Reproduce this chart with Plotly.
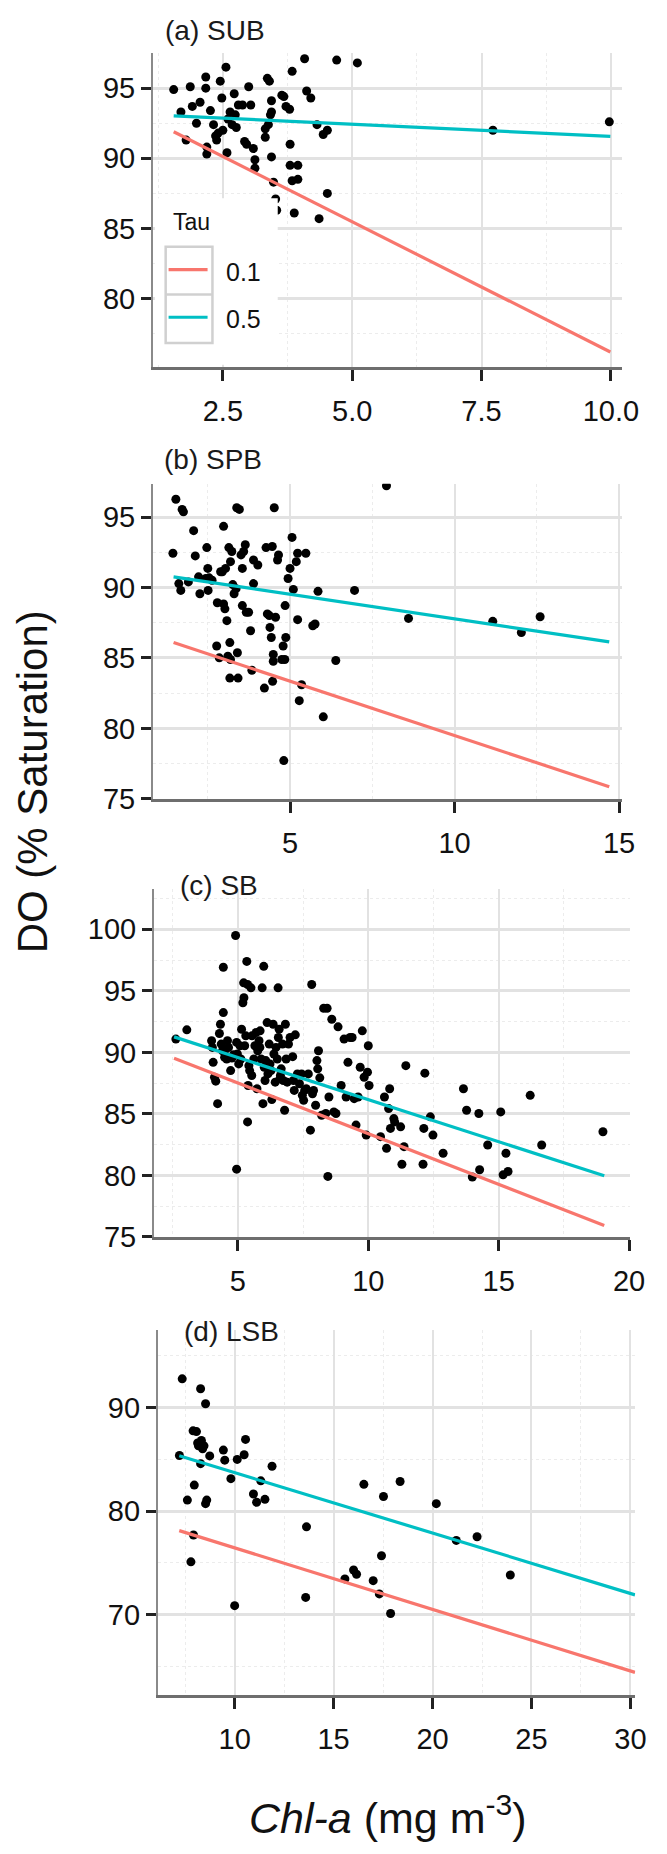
import plotly.graph_objects as go

# ---------------- data ----------------
panel_titles = ["(a) SUB", "(b) SPB", "(c) SB", "(d) LSB"]
tau_levels = ["0.1", "0.5"]
legend_title = "Tau"

a_chl = [1.55,1.69,1.87,1.91,1.99,2.06,1.79,2.17,2.17,2.19,2.19,2.26,2.32,2.36,2.38,2.41,2.45,2.48,2.50,2.56,
         2.58,2.60,2.64,2.68,2.72,2.74,2.76,2.80,2.88,2.92,2.96,3.00,3.04,3.09,3.12,3.12,3.32,3.32,3.36,3.38,
         3.40,3.42,3.44,3.44,3.44,3.48,3.52,3.54,3.64,3.68,3.72,3.79,3.80,3.80,3.84,3.84,3.88,3.95,3.95,4.08,
         4.12,4.20,4.32,4.36,4.44,4.52,4.52,4.70,5.10,7.72,9.97]
a_do = [94.9,93.3,95.1,93.7,92.5,94.0,91.3,95.8,95.0,90.8,90.3,93.4,92.4,91.6,91.3,91.8,95.5,94.3,92.0,96.5,
        90.4,92.8,93.3,92.4,94.6,93.1,92.2,93.8,93.8,91.2,91.0,95.1,93.8,90.7,89.9,89.3,91.5,92.1,95.7,92.4,
        95.5,93.1,94.1,93.3,90.1,88.3,87.1,86.3,94.5,94.4,93.7,93.5,91.0,89.5,96.2,88.4,86.1,89.5,88.5,97.1,
        94.8,94.3,92.4,85.7,91.7,92.0,87.5,97.0,96.8,92.0,92.6]

b_chl = [1.53,1.44,1.72,1.76,1.62,1.68,1.91,2.07,2.12,2.22,2.26,2.44,2.47,2.50,2.51,2.54,2.63,2.77,2.79,2.85,
         2.89,2.94,2.98,2.98,3.02,3.04,3.08,3.11,3.14,3.17,3.17,3.19,3.19,3.23,3.26,3.30,3.36,3.38,3.40,3.42,
         3.46,3.51,3.55,3.55,3.59,3.64,3.67,3.74,3.80,3.84,3.89,3.89,4.02,4.22,4.27,4.31,4.37,4.39,4.43,4.46,
         4.47,4.49,4.49,4.52,4.56,4.62,4.65,4.75,4.79,4.81,4.84,4.85,4.87,4.94,5.00,5.06,5.10,5.19,5.23,5.23,
         5.28,5.35,5.48,5.69,5.76,5.85,6.01,6.39,6.96,7.93,8.60,11.16,12.03,12.60]
b_do = [96.27,92.44,95.55,95.38,90.28,89.8,90.4,94.04,92.25,90.76,89.56,90.64,92.84,91.36,89.8,90.69,90.52,85.85,88.92,85.01,
        91.12,91.12,94.35,88.84,88.49,91.36,87.65,85.13,92.84,86.09,83.57,84.89,91.84,92.56,90.21,89.56,89.92,95.67,85.37,83.57,
        95.55,92.32,91.36,88.72,92.56,93.04,88.25,88.25,86.93,84.13,91.96,90.28,91.6,82.86,92.84,88.13,88.01,87.17,86.45,92.92,
        83.34,84.77,85.25,95.67,87.89,91.96,92.32,84.89,85.85,77.71,84.89,88.72,86.45,90.64,91.36,93.56,89.87,91.84,92.44,87.72,
        81.97,83.1,92.44,87.29,87.41,89.73,80.82,84.82,89.8,97.23,87.81,87.6,86.81,87.93]

c_chl = [2.62,3.04,3.99,4.02,4.05,4.10,4.15,4.22,4.29,4.33,4.36,4.41,4.44,4.44,4.49,4.53,4.57,4.60,4.64,4.72,
         4.77,4.83,4.91,4.95,4.95,4.98,5.03,5.08,5.11,5.14,5.19,5.22,5.23,5.26,5.30,5.34,5.37,5.37,5.39,5.42,
         5.45,5.50,5.53,5.54,5.61,5.65,5.70,5.73,5.76,5.81,5.84,5.85,5.89,5.93,5.96,5.99,6.01,6.04,6.07,6.12,
         6.15,6.20,6.23,6.27,6.30,6.35,6.38,6.43,6.46,6.51,6.54,6.55,6.58,6.61,6.63,6.66,6.71,6.74,6.79,6.82,
         6.85,6.89,6.94,7.00,7.10,7.13,7.16,7.20,7.28,7.36,7.44,7.47,7.52,7.56,7.62,7.70,7.78,7.83,7.86,7.90,
         7.98,8.03,8.06,8.09,8.14,8.21,8.29,8.37,8.42,8.45,8.49,8.60,8.68,8.76,8.84,8.96,9.07,9.15,9.22,9.30,
         9.38,9.46,9.53,9.61,9.69,9.77,9.84,9.92,9.97,10.00,10.03,10.47,10.62,10.70,10.78,10.82,10.85,10.98,11.01,11.24,
         11.29,11.37,11.44,12.10,12.13,12.17,12.38,12.48,12.87,13.65,13.77,13.99,14.24,14.27,14.58,15.08,15.17,15.28,15.36,16.21,
         16.65,19.00]
c_do = [91.08,91.83,90.94,90.4,89.19,87.98,87.66,85.83,91.53,92.28,90.67,90.13,93.23,96.91,89.6,90.27,89.46,90.94,90.4,88.52,
        89.54,89.81,99.49,90.81,80.51,89.87,89.06,90.54,89.46,91.88,94.03,95.65,94.44,90.54,91.34,97.39,95.51,84.35,87.31,88.92,
        88.52,95.24,88.12,91.34,89.46,90.54,91.61,87.04,90.13,90.94,90.4,91.75,89.46,95.24,85.83,96.99,88.79,87.71,89.33,92.42,
        88.25,90.67,89.06,88.52,86.16,92.28,89.87,87.58,90.4,89.46,95.24,91.21,91.88,87.85,88.12,88.66,90.67,87.71,85.3,92.28,
        89.46,87.58,90.67,91.21,89.65,87.71,86.91,91.42,88.25,87.45,88.25,86.51,86.1,86.91,87.04,88.25,83.68,95.51,86.64,86.91,
        85.7,89.33,88.66,90.13,87.93,84.89,93.58,85.03,93.58,79.92,86.37,92.69,85.16,85.03,92.07,87.31,91.08,86.37,89.19,91.21,
        91.21,86.24,84.09,86.37,88.79,91.75,87.98,83.28,88.39,90.54,87.31,83.15,86.37,82.2,85.43,87.04,83.82,84.62,84.35,83.95,
        80.91,82.34,88.92,80.91,83.82,88.31,84.76,83.28,81.8,87.04,85.3,79.87,85.03,80.46,82.47,85.16,80.05,81.8,80.32,86.51,
        82.47,83.55]

d_chl = [7.35,7.21,7.61,7.79,7.90,7.96,7.92,8.07,8.13,8.17,8.28,8.32,8.38,8.45,8.28,8.53,8.53,8.59,8.74,9.43,
         9.50,9.81,10.00,10.13,10.48,10.55,10.95,11.11,11.32,11.53,11.89,13.59,13.63,15.57,16.01,16.16,16.53,17.00,17.31,17.42,
         17.52,17.88,18.36,20.19,21.20,22.25,23.93]
d_do = [92.79,85.38,81.07,75.1,87.76,82.52,77.69,87.69,86.59,86.31,91.83,86.83,86.03,86.31,84.59,90.38,80.72,81.07,85.34,85.9,
        84.93,83.14,70.86,85.0,85.45,86.93,81.66,80.86,82.93,81.14,84.34,71.66,78.48,73.45,74.31,73.9,82.59,73.28,72.0,75.69,
        81.41,70.1,82.86,80.72,77.17,77.52,73.83]

# quantile regression fits: intercept, slope per tau (0.1, 0.5)
fit_int_tau01 = [94.78, 87.22, 91.62, 82.40]
fit_slope_tau01 = [-1.86, -0.773, -0.823, -0.595]
fit_int_tau05 = [93.30, 91.27, 93.00, 89.56]
fit_slope_tau05 = [-0.174, -0.349, -0.684, -0.584]
fit_x_start = [1.55, 1.46, 2.55, 7.20]
fit_x_end = [9.99, 14.70, 19.05, 30.23]

x_ticks = [[2.5, 5.0, 7.5, 10.0], [5, 10, 15], [5, 10, 15, 20], [10, 15, 20, 25, 30]]
x_ticktext = [["2.5", "5.0", "7.5", "10.0"], ["5", "10", "15"], ["5", "10", "15", "20"], ["10", "15", "20", "25", "30"]]
y_ticks = [[80, 85, 90, 95], [75, 80, 85, 90, 95], [75, 80, 85, 90, 95, 100], [70, 80, 90]]

chl_all = [a_chl, b_chl, c_chl, d_chl]
do_all = [a_do, b_do, c_do, d_do]
for xs, ys in zip(chl_all, do_all):
    assert len(xs) == len(ys), (len(xs), len(ys))

# ---------------- layout geometry (pixels) ----------------
W, H = 667, 1854
boxes = [(157, 638, 53, 370), (157, 638, 488, 806), (158, 646, 897, 1248), (162, 652, 1342, 1710)]
x_ranges = [[1.15, 10.21], [0.835, 15.08], [1.78, 20.02], [6.12, 30.25]]
y_ranges = [[75.14, 97.54], [74.98, 97.37], [74.98, 103.25], [62.2, 97.47]]
x_minor = [1.25, 2.5, 2.5, 2.5]
y_minor = [2.5, 2.5, 2.5, 5]
title_pos = [(167, 31), (166, 464), (183, 893), (187, 1343)]

RED = "#F8766D"
CYAN = "#00BFC4"
FONT = "Liberation Sans, Arial, sans-serif"
TICK_SIZE = 29

fig = go.Figure()
layout = dict(
    width=W, height=H, margin=dict(l=0, r=0, t=0, b=0),
    paper_bgcolor="white", plot_bgcolor="white",
    font=dict(family=FONT, color="#1a1a1a"),
    showlegend=False,
)

def px(x):
    return x / W

def py(y):
    return 1 - y / H

annotations = []
shapes = []
for i in range(4):
    sfx = "" if i == 0 else str(i + 1)
    xa, ya = "x" + sfx, "y" + sfx
    l, r, t, b = boxes[i]
    layout["xaxis" + sfx] = dict(
        domain=[px(l), px(r)], range=x_ranges[i], anchor=ya,
        tickvals=x_ticks[i], ticktext=x_ticktext[i],
        showgrid=True, gridcolor="#e2e2e2", gridwidth=2,
        minor=dict(dtick=x_minor[i], showgrid=True, gridcolor="#ececec", gridwidth=1, griddash="dot"),
        showline=True, linecolor="#6e6e6e", linewidth=3,
        ticks="outside", ticklen=11, tickwidth=3, tickcolor="#222",
        tickfont=dict(size=TICK_SIZE, family=FONT, color="#111"), ticklabelstandoff=5,
        zeroline=False,
    )
    layout["yaxis" + sfx] = dict(
        domain=[py(b), py(t)], range=y_ranges[i], anchor=xa,
        tickvals=y_ticks[i],
        showgrid=True, gridcolor="#e2e2e2", gridwidth=2.5,
        minor=dict(dtick=y_minor[i], showgrid=True, gridcolor="#ececec", gridwidth=1, griddash="dot"),
        showline=True, linecolor="#8a8a8a", linewidth=2,
        ticks="outside", ticklen=10, tickwidth=2.5, tickcolor="#222",
        tickfont=dict(size=TICK_SIZE, family=FONT, color="#111"),
        zeroline=False,
    )
    fig.add_trace(go.Scatter(
        x=chl_all[i], y=do_all[i], mode="markers", xaxis=xa, yaxis=ya,
        marker=dict(color="black", size=9), showlegend=False, hoverinfo="x+y",
    ))
    x0, x1 = fit_x_start[i], fit_x_end[i]
    for tau, ints, slopes, col in [(tau_levels[0], fit_int_tau01, fit_slope_tau01, RED),
                                   (tau_levels[1], fit_int_tau05, fit_slope_tau05, CYAN)]:
        fig.add_trace(go.Scatter(
            x=[x0, x1], y=[ints[i] + slopes[i] * x0, ints[i] + slopes[i] * x1],
            mode="lines", xaxis=xa, yaxis=ya, line=dict(color=col, width=3.2),
            name="Tau " + tau, legendgroup=tau, showlegend=False,
        ))
    tx, ty = title_pos[i]
    annotations.append(dict(
        text=panel_titles[i], x=px(tx), y=py(ty), xref="paper", yref="paper",
        xanchor="left", yanchor="middle", showarrow=False,
        font=dict(size=28, family=FONT, color="#1a1a1a"),
    ))

# ---- legend (Tau) drawn inside panel (a), ggplot-style ----
shapes.append(dict(type="rect", xref="paper", yref="paper", layer="above",
                   x0=px(159), x1=px(285), y0=py(368), y1=py(200),
                   fillcolor="white", line=dict(width=0)))
shapes.append(dict(type="rect", xref="paper", yref="paper", layer="above",
                   x0=px(170), x1=px(218), y0=py(346), y1=py(249),
                   fillcolor="rgba(0,0,0,0)", line=dict(color="#d0d0d0", width=2.5)))
shapes.append(dict(type="line", xref="paper", yref="paper", layer="above",
                   x0=px(170), x1=px(218), y0=py(297), y1=py(297),
                   line=dict(color="#d0d0d0", width=2.5)))
legend_rows_y = [272, 320]
for tau, col, yy in zip(tau_levels, [RED, CYAN], legend_rows_y):
    shapes.append(dict(type="line", xref="paper", yref="paper", layer="above",
                       x0=px(173), x1=px(213), y0=py(yy), y1=py(yy),
                       line=dict(color=col, width=3.2)))
    annotations.append(dict(
        text=tau, x=px(230), y=py(yy + 2), xref="paper", yref="paper",
        xanchor="left", yanchor="middle", showarrow=False,
        font=dict(size=25, family=FONT, color="#111"),
    ))
annotations.append(dict(
    text=legend_title, x=px(175), y=py(224), xref="paper", yref="paper",
    xanchor="left", yanchor="middle", showarrow=False,
    font=dict(size=23, family=FONT, color="#111"),
))

annotations.append(dict(
    text="DO (% Saturation)", x=px(33), y=py(789), xref="paper", yref="paper",
    textangle=-90, showarrow=False, xanchor="center", yanchor="middle",
    font=dict(size=42, family=FONT, color="#111"),
))
annotations.append(dict(
    text="<i>Chl-a</i> (mg m<sup>-3</sup>)", x=px(398), y=py(1831), xref="paper", yref="paper",
    showarrow=False, xanchor="center", yanchor="middle",
    font=dict(size=43, family=FONT, color="#111"),
))

layout["annotations"] = annotations
layout["shapes"] = shapes
fig.update_layout(**layout)
fig.write_html("out.html")
